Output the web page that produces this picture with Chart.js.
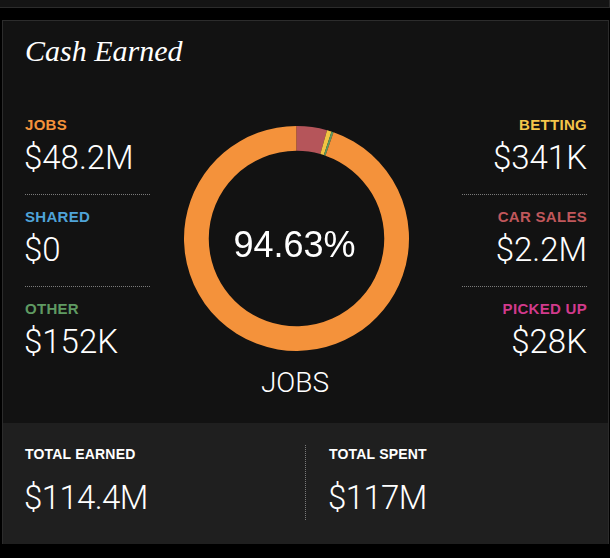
<!DOCTYPE html>
<html lang="en">

<head>
    <meta charset="UTF-8">
    <title>Cash Earned</title>
    <script src="https://cdn.jsdelivr.net/npm/chart.js"></script>
    <style>
        body { margin: 0; background: #000; width: 610px; height: 558px; position: relative; overflow: hidden; font-family: "Liberation Sans", Arial, sans-serif; }
        .topband { position: absolute; left: 0; top: 0; width: 609px; height: 7px; background: #141414; border-bottom: 1px solid #2c2c2c; border-right: 1px solid #2c2c2c; }
        .panel { position: absolute; left: 2px; top: 20px; width: 605px; height: 522px; background: #121212; border: 1px solid #2c2c2c; }
        .bottom { position: absolute; left: 3px; top: 423px; width: 605px; height: 121px; background: #1f1f1f; }
        .abs { position: absolute; line-height: 1; white-space: nowrap; }
        .title { font-family: "Liberation Serif", serif; font-style: italic; font-size: 30px; color: #fff; left: 25px; top: 36px; }
        .lbl { font-weight: bold; font-size: 15px; letter-spacing: 0.3px; }
        .val { font-family: "Roboto", "Liberation Sans", sans-serif; font-weight: 300; font-size: 33px; color: #fff; }
        .dots { position: absolute; height: 0; border-top: 1px dotted #7a7a7a; width: 125px; }
        .right { text-align: right; }
        #wrap { position: absolute; left: 184px; top: 126px; width: 225px; height: 225px; }
    </style>
</head>

<body>
    <div class="topband"></div>
    <div class="panel"></div>
    <div class="bottom"></div>
    <div class="abs title">Cash Earned</div>
    <div id="stats"></div>
    <div id="wrap"><canvas id="canvas" width="225" height="225"></canvas></div>
    <div class="abs" style="left:182px;width:225px;text-align:center;top:227px;font-size:36px;color:#fff;" id="pct"></div>
    <div class="abs val" style="left:184px;width:222px;text-align:center;top:369px;font-size:28px;">JOBS</div>
    <div style="position:absolute;left:305px;top:445px;height:75px;border-left:1px dotted #7a7a7a;"></div>
</body>

</html>
<script>
    // doughnut slices, clockwise from top (values in $M)
    const categories = ['PICKED UP', 'CAR SALES', 'BETTING', 'OTHER', 'SHARED', 'JOBS'];
    const amounts = [0.028, 2.2, 0.341, 0.152, 0, 48.2];
    const sliceColors = ['#d9368e', '#b5555a', '#f2c443', '#5d9960', '#4fa3d8', '#f4923b'];

    // side stats
    const leftLabels = ['JOBS', 'SHARED', 'OTHER'];
    const leftValues = ['$48.2M', '$0', '$152K'];
    const leftColors = ['#f4923b', '#4fa3d8', '#5f9a62'];
    const rightLabels = ['BETTING', 'CAR SALES', 'PICKED UP'];
    const rightValues = ['$341K', '$2.2M', '$28K'];
    const rightColors = ['#f5c54a', '#c0575b', '#d13a8c'];

    const centerPct = '94.63%';
    const totalLabels = ['TOTAL EARNED', 'TOTAL SPENT'];
    const totalValues = ['$114.4M', '$117M'];

    const stats = document.getElementById('stats');
    function add(html) { stats.insertAdjacentHTML('beforeend', html); }
    const rowTop = [117, 209, 301];
    for (let i = 0; i < 3; i++) {
        add(`<div class="abs lbl" style="left:25px;top:${rowTop[i]}px;color:${leftColors[i]}">${leftLabels[i]}</div>`);
        add(`<div class="abs val" style="left:24px;top:${rowTop[i] + 24}px">${leftValues[i]}</div>`);
        add(`<div class="abs lbl right" style="right:23px;top:${rowTop[i]}px;color:${rightColors[i]}">${rightLabels[i]}</div>`);
        add(`<div class="abs val right" style="right:23px;top:${rowTop[i] + 24}px">${rightValues[i]}</div>`);
        if (i < 2) {
            add(`<div class="dots" style="left:25px;top:${rowTop[i] + 77}px"></div>`);
            add(`<div class="dots" style="left:462px;top:${rowTop[i] + 77}px"></div>`);
        }
    }
    const totLeft = [25, 329];
    for (let i = 0; i < 2; i++) {
        add(`<div class="abs lbl" style="left:${totLeft[i]}px;top:447px;color:#fff;font-size:14px;letter-spacing:0.2px">${totalLabels[i]}</div>`);
        add(`<div class="abs val" style="left:${totLeft[i] - 1}px;top:481px;letter-spacing:-0.6px">${totalValues[i]}</div>`);
    }
    document.getElementById('pct').textContent = centerPct;

    const ctx = document.getElementById('canvas').getContext('2d');
    const chart = new Chart(ctx, {
        type: 'doughnut',
        data: {
            labels: categories,
            datasets: [{
                data: amounts,
                backgroundColor: sliceColors,
                borderWidth: 0
            }]
        },
        options: {
            responsive: false,
            animation: false,
            devicePixelRatio: 1,
            cutout: '78%',
            events: [],
            plugins: {
                legend: { display: false },
                tooltip: { enabled: false }
            }
        }
    });
</script>
